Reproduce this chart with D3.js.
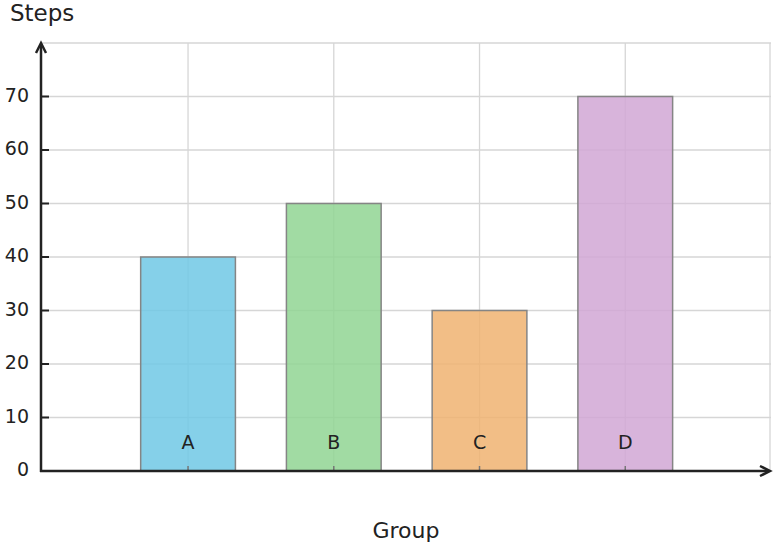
<!DOCTYPE html>
<html>
<head>
<meta charset="utf-8">
<script src="https://cdn.jsdelivr.net/npm/d3@7"></script>
<style>
  body { margin: 0; background: #fff; }
  text { font-family: "DejaVu Sans", sans-serif; fill: #222; }
</style>
</head>
<body>
<div id="chart"></div>
<script>
// chart data
const groups = ["A", "B", "C", "D"];
const steps = [40, 50, 30, 70];
const colors = ["#70c8e5", "#90d593", "#f0b371", "#d1a7d5"];
const yTicks = [0, 10, 20, 30, 40, 50, 60, 70];

const W = 774, H = 548;
const plotLeft = 41, plotRight = 771, plotTop = 43, plotBottom = 471;

const svg = d3.select("#chart").append("svg")
    .attr("width", W)
    .attr("height", H);

// scales: groups sit at 1..4 on a 0..5 axis
const x = d3.scaleLinear().domain([0, 5]).range([plotLeft + 1.3, plotRight]);
const y = d3.scaleLinear().domain([0, 80]).range([plotBottom, plotTop]);
const barW = x(0.65) - x(0);

// gridlines
svg.append("g")
    .selectAll("line")
    .data(yTicks.slice(1).concat([80]))
    .enter().append("line")
    .attr("x1", plotLeft).attr("x2", plotRight)
    .attr("y1", d => y(d)).attr("y2", d => y(d))
    .attr("stroke", "#d6d6d6").attr("stroke-width", 1.3);

svg.append("g")
    .selectAll("line")
    .data(groups.map((g, i) => i + 1).concat([5]))
    .enter().append("line")
    .attr("x1", d => x(d) - (d === 5 ? 1 : 0)).attr("x2", d => x(d) - (d === 5 ? 1 : 0))
    .attr("y1", plotTop).attr("y2", plotBottom)
    .attr("stroke", "#d6d6d6").attr("stroke-width", 1.3);

// bars
svg.append("g")
    .selectAll("rect")
    .data(steps)
    .enter().append("rect")
    .attr("x", (d, i) => x(i + 1) - barW / 2)
    .attr("y", d => y(d))
    .attr("width", barW)
    .attr("height", d => y(0) - y(d))
    .attr("fill", (d, i) => colors[i])
    .attr("fill-opacity", 0.85)
    .attr("stroke", "#858585")
    .attr("stroke-width", 1.5);

// group labels inside bars
svg.append("g")
    .selectAll("text")
    .data(groups)
    .enter().append("text")
    .attr("x", (d, i) => x(i + 1))
    .attr("y", y(4.1))
    .attr("text-anchor", "middle")
    .style("font-size", "19px")
    .text(d => d);

// small x ticks
svg.append("g")
    .selectAll("line")
    .data(groups)
    .enter().append("line")
    .attr("x1", (d, i) => x(i + 1)).attr("x2", (d, i) => x(i + 1))
    .attr("y1", plotBottom).attr("y2", plotBottom - 5)
    .attr("stroke", "#777").attr("stroke-width", 1.5);

// y ticks and labels
const yt = svg.append("g");
yt.selectAll("line")
    .data(yTicks)
    .enter().append("line")
    .attr("x1", plotLeft).attr("x2", plotLeft + 8)
    .attr("y1", d => y(d)).attr("y2", d => y(d))
    .attr("stroke", "#222").attr("stroke-width", 2);
yt.selectAll("text")
    .data(yTicks)
    .enter().append("text")
    .attr("x", 29)
    .attr("y", d => y(d) + 5)
    .attr("text-anchor", "end")
    .style("font-size", "19px")
    .text(d => d);

// axes with arrowheads
const axisColor = "#222";
svg.append("line")
    .attr("x1", plotLeft).attr("x2", plotLeft)
    .attr("y1", plotBottom + 1).attr("y2", plotTop + 1)
    .attr("stroke", axisColor).attr("stroke-width", 2.5);
svg.append("path")
    .attr("d", `M${plotLeft - 5},${plotTop + 10} L${plotLeft},${plotTop} L${plotLeft + 5},${plotTop + 10}`)
    .attr("fill", "none").attr("stroke", axisColor).attr("stroke-width", 2.5);

svg.append("line")
    .attr("x1", plotLeft - 1).attr("x2", plotRight - 2)
    .attr("y1", plotBottom).attr("y2", plotBottom)
    .attr("stroke", axisColor).attr("stroke-width", 2.5);
svg.append("path")
    .attr("d", `M${plotRight - 11},${plotBottom - 5} L${plotRight - 1},${plotBottom} L${plotRight - 11},${plotBottom + 5}`)
    .attr("fill", "none").attr("stroke", axisColor).attr("stroke-width", 2.5);

// axis titles
svg.append("text")
    .attr("x", 10)
    .attr("y", 21)
    .style("font-size", "23px")
    .text("Steps");

svg.append("text")
    .attr("x", (plotLeft + plotRight) / 2)
    .attr("y", 538)
    .attr("text-anchor", "middle")
    .style("font-size", "22px")
    .text("Group");
</script>
</body>
</html>
